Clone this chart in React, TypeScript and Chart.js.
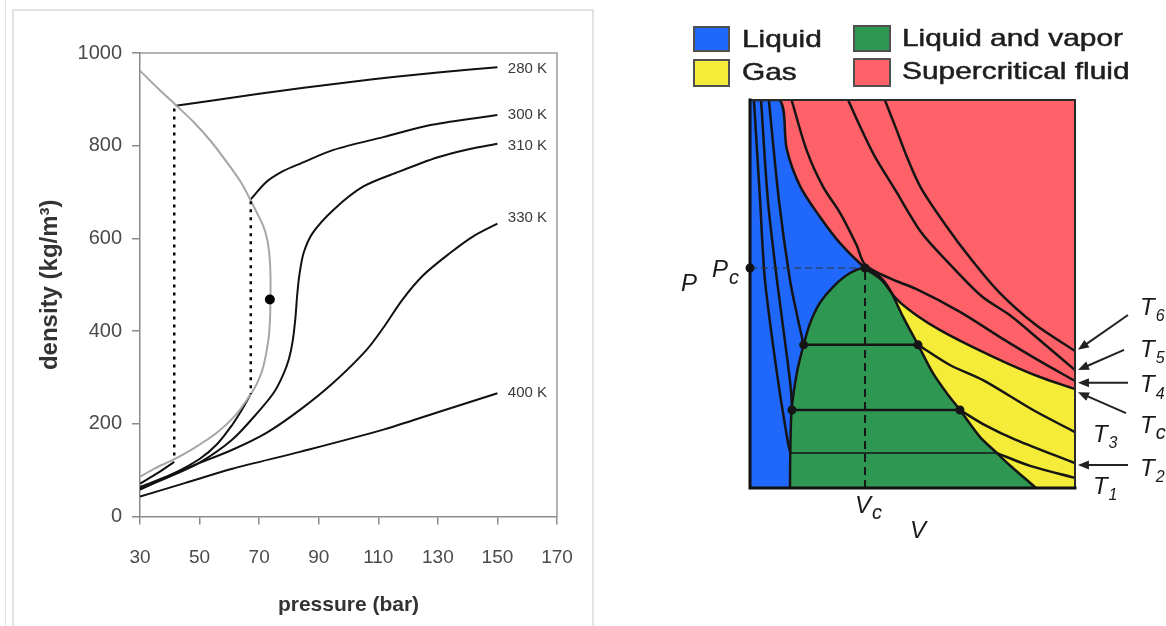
import React, { useEffect, useRef } from "react";
import { Chart, registerables } from "chart.js";

Chart.register(...registerables);

const FONT = '"Liberation Sans", Arial, Helvetica, sans-serif';
Chart.defaults.font.family = FONT;

// ================= Left chart: CO2 density vs pressure =================
const pressureTicks = [30, 50, 70, 90, 110, 130, 150, 170];
const densityTicks = [0, 200, 400, 600, 800, 1000];

// grey saturation (two-phase boundary) curve: liquid side then vapour side
const saturationCurve = [
  [30, 962], [36, 924], [42.3, 886], [48, 851], [54, 808], [60, 757], [64, 720], [67, 684],
  [69.5, 652], [71.5, 625], [72.8, 595], [73.5, 560], [73.8, 520], [73.8, 467], [73.6, 420],
  [73.1, 381], [71.4, 323], [69.5, 290], [67, 262], [62, 218], [55.7, 180],
  [48, 147], [41, 122], [35, 104], [30, 86],
];
const iso280Vapor = [[30, 71], [36, 94], [41.5, 118]];
const iso280Liquid = [
  [42, 886], [55, 898], [70, 912], [85, 925], [100, 937], [115, 948], [130, 958], [150, 969],
];
const iso300Vapor = [[30, 64], [40, 89], [50, 124], [56, 157], [61, 198], [64, 228], [67, 262]];
const iso300Liquid = [
  [67, 683], [72.5, 722], [78, 745], [84, 762], [95, 791], [112, 819], [128, 845], [150, 866],
];
const iso310 = [
  [30, 60], [40, 86], [50, 116], [61, 166], [70, 228], [75, 268], [78, 305], [80, 340],
  [81.3, 380], [82.2, 430], [82.8, 480], [83.6, 525], [85, 570], [88, 612], [95, 662],
  [105, 712], [117, 744], [130, 775], [140, 792], [150, 804],
];
const iso330 = [
  [30, 58], [44.5, 101], [61, 144], [72.6, 181], [83.7, 230], [94.8, 288], [106, 359],
  [112, 410], [118, 467], [125, 520], [134, 568], [142, 605], [150, 632],
];
const iso400 = [[30, 43], [45, 72], [61, 103], [84, 140], [112, 188], [130, 225], [150, 266]];
const tieLine42 = [[41.5, 880], [41.5, 122]];
const tieLine67 = [[67.2, 680], [67.2, 264]];
const criticalPointCO2 = [[73.6, 468]];
const isothermLabels = ["280 K", "300 K", "310 K", "330 K", "400 K"];
const isothermLabelPressure = [153.5, 153.5, 153.5, 153.5, 153.5];
const isothermLabelDensity = [966, 866, 799, 645, 266];

// ================= Right chart: P–V diagram =================
const vCritical = 35.4;
const domeBoundary = [
  [12.3, 0], [12.4, 9], [12.8, 20], [14.5, 30], [16.5, 36.9], [18.5, 42.5], [21.5, 47.7],
  [25.5, 51.8], [30.8, 55.4], [35.4, 56.7], [40, 54.4], [43.1, 51], [47.1, 44.1],
  [51.7, 36.9], [56.3, 29.6], [60.5, 24.5], [64.6, 20.1], [70.8, 13.1], [76, 9],
  [80, 5.8], [85, 2.2], [88, 0],
];
const regionCorner = [[0, 100]];
const tcIsotherm = [
  [9.2, 100], [11.3, 87.4], [15.4, 77.8], [21.5, 69.9], [27.7, 63.1], [35.4, 56.7],
  [40.5, 53.6], [45.2, 48.6], [51.1, 44.6], [58.5, 40.7], [68.6, 36.3], [79, 32.2],
  [89.2, 28.6], [100, 25.5],
];
const t4Isotherm = [
  [12.8, 100], [17.4, 87.1], [22.5, 77.6], [27.7, 70.9], [32.8, 62.6], [35.4, 57.6],
  [43.1, 54], [51.1, 51.3], [64.6, 45.4], [76.9, 38.9], [89.2, 32.7], [100, 27.6],
];
const t5Isotherm = [
  [30.2, 100], [33.3, 94.2], [38.3, 85.6], [44.5, 77.1], [52.6, 66], [60.8, 58.3],
  [71.2, 49.5], [80, 44.5], [90, 37.5], [100, 30.4],
];
const t6Isotherm = [
  [41.5, 100], [45.1, 92.3], [48.2, 85.5], [52.5, 77.5], [60, 68], [68, 59],
  [76.6, 50.5], [88, 42], [100, 35.3],
];
const t3Liquid = [[5.8, 100], [8.9, 74.2], [12.3, 53.6], [14.8, 43.3], [16.5, 36.9]];
const t3Tie = [[16.5, 36.9], [51.7, 36.9]];
const t3Gas = [[51.7, 36.9], [61.5, 31.7], [71.7, 27.8], [87.1, 20.1], [100, 14.4]];
const t2Liquid = [[3.4, 100], [5.5, 74.2], [8.3, 53.6], [11.1, 35.6], [12.6, 25.3], [12.9, 20.1]];
const t2Tie = [[12.9, 20.1], [64.6, 20.1]];
const t2Gas = [[64.6, 20.1], [72.3, 16.2], [81.8, 12.4], [100, 6.4]];
const t1Liquid = [[1.2, 100], [3.1, 74.2], [4.6, 53.6], [8.6, 27.8], [11.7, 11.6], [12.4, 9]];
const t1Tie = [[12.4, 9], [76, 9]];
const t1Gas = [[76, 9], [86.2, 5.7], [100, 2.6]];
const saturationDots = [[16.5, 36.9], [51.7, 36.9], [12.9, 20.1], [64.6, 20.1], [35.4, 56.7]];
const pcLine = [[0, 56.7], [35.4, 56.7]];
const vcLine = [[35.4, 0], [35.4, 56.7]];
const pcMarker = [[0, 56.7]];

// text labels of the P–V diagram: [main, subscript, V, P]
const pvLabels: [string, string, number, number][] = [
  ["P", "", -21.2, 52.6],
  ["P", "c", -11.7, 56.2],
  ["V", "c", 32.3, -4.6],
  ["V", "", 49.2, -11.1],
  ["T", "6", 120, 46.4],
  ["T", "5", 120, 35.6],
  ["T", "4", 120, 26.5],
  ["T", "c", 120, 16.0],
  ["T", "3", 105.5, 13.7],
  ["T", "2", 120, 4.9],
  ["T", "1", 105.5, 0.3],
];
// arrows from labels to isotherm ends: [V1, P1, V2, P2]
const pvArrows = [
  [116.3, 44.6, 100.9, 35.6],
  [115.1, 35.6, 100.9, 30.4],
  [116.3, 27.1, 100.9, 27.1],
  [115.7, 19.3, 100.9, 24.7],
  [116.3, 5.9, 100.9, 5.9],
];

const BLUE = "#2067fb";
const GREEN = "#2e9852";
const RED = "#ff6168";
const YELLOW = "#f4ec38";
const INK = "#151515";

const pts = (a: number[][]) => a.map(([x, y]) => ({ x, y }));

function leftConfig(): any {
  const line = (data: number[][], extra: any = {}) => ({
    data: pts(data),
    showLine: true,
    pointRadius: 0,
    borderColor: "#111",
    borderWidth: 2,
    tension: 0.3,
    fill: false,
    ...extra,
  });
  const labelPlugin = {
    id: "isoLabels",
    beforeDatasetsDraw(chart: any) {
      const { ctx, chartArea: a } = chart;
      ctx.save();
      ctx.strokeStyle = "#9a9a9a";
      ctx.lineWidth = 1.5;
      ctx.beginPath();
      ctx.moveTo(a.left, a.top);
      ctx.lineTo(a.right, a.top);
      ctx.lineTo(a.right, a.bottom);
      ctx.stroke();
      ctx.restore();
    },
    afterDatasetsDraw(chart: any) {
      const { ctx, scales } = chart;
      ctx.save();
      ctx.font = `15px ${FONT}`;
      ctx.fillStyle = "#3a3a3a";
      ctx.textAlign = "left";
      ctx.textBaseline = "middle";
      isothermLabels.forEach((t, i) => {
        ctx.fillText(
          t,
          scales.x.getPixelForValue(isothermLabelPressure[i]),
          scales.y.getPixelForValue(isothermLabelDensity[i])
        );
      });
      ctx.restore();
    },
  };
  return {
    type: "scatter",
    data: {
      datasets: [
        line(criticalPointCO2, { showLine: false, pointRadius: 5, pointBackgroundColor: "#000", pointBorderWidth: 0 }),
        line(tieLine42, { borderDash: [3, 5], borderWidth: 2.5, tension: 0, borderColor: "#000" }),
        line(tieLine67, { borderDash: [3, 5], borderWidth: 2.5, tension: 0, borderColor: "#000" }),
        line(saturationCurve, { borderColor: "#a6a6a6", borderWidth: 2, tension: 0.25 }),
        line(iso280Vapor),
        line(iso280Liquid),
        line(iso300Vapor),
        line(iso300Liquid),
        line(iso310),
        line(iso330),
        line(iso400),
      ],
    },
    options: {
      animation: false,
      responsive: false,
      events: [],
      layout: { padding: { left: 0, top: 53, right: 43, bottom: 0 } },
      plugins: { legend: { display: false }, tooltip: { enabled: false } },
      scales: {
        x: {
          type: "linear",
          min: 30,
          max: 170,
          afterBuildTicks: (s: any) => {
            s.ticks = pressureTicks.map((value) => ({ value }));
          },
          afterFit: (s: any) => {
            s.height = 109.5;
          },
          ticks: { color: "#4a4a4a", font: { size: 19 }, padding: 22, maxRotation: 0, callback: (v: any) => String(v) },
          grid: { drawOnChartArea: false, drawTicks: true, tickLength: 8, color: "#8a8a8a", lineWidth: 1.5 },
          border: { color: "#8a8a8a", width: 1.5 },
          title: {
            display: true,
            text: "pressure (bar)",
            color: "#333",
            font: { size: 21, weight: "bold" },
            padding: { top: 0, bottom: 8.4 },
          },
        },
        y: {
          type: "linear",
          min: 0,
          max: 1000,
          afterBuildTicks: (s: any) => {
            s.ticks = densityTicks.map((value) => ({ value }));
          },
          afterFit: (s: any) => {
            s.width = 140;
          },
          ticks: { color: "#4a4a4a", font: { size: 20 }, padding: 10, callback: (v: any) => String(v) },
          grid: { drawOnChartArea: false, drawTicks: true, tickLength: 8, color: "#8a8a8a", lineWidth: 1.5 },
          border: { color: "#8a8a8a", width: 1.5 },
          title: {
            display: true,
            text: "density (kg/m³)",
            color: "#333",
            font: { size: 24, weight: "bold" },
            padding: { top: 35.6, bottom: 0 },
          },
        },
      },
    },
    plugins: [labelPlugin],
  };
}

function rightConfig(): any {
  const line = (data: number[][], extra: any = {}) => ({
    data: pts(data),
    showLine: true,
    pointRadius: 0,
    borderColor: INK,
    borderWidth: 2.5,
    tension: 0.3,
    fill: false,
    order: 1,
    ...extra,
  });
  const notes = {
    id: "pvNotes",
    afterDatasetsDraw(chart: any) {
      const { ctx, chartArea: a, scales } = chart;
      const px = (v: number) => scales.x.getPixelForValue(v);
      const py = (p: number) => scales.y.getPixelForValue(p);
      ctx.save();
      // frame
      ctx.lineCap = "square";
      ctx.strokeStyle = "#2a2a2a";
      ctx.lineWidth = 2;
      ctx.beginPath();
      ctx.moveTo(a.left, a.top);
      ctx.lineTo(a.right, a.top);
      ctx.lineTo(a.right, a.bottom);
      ctx.stroke();
      ctx.strokeStyle = "#111";
      ctx.lineWidth = 3;
      ctx.beginPath();
      ctx.moveTo(a.left, a.top);
      ctx.lineTo(a.left, a.bottom);
      ctx.lineTo(a.right, a.bottom);
      ctx.stroke();
      // arrows
      ctx.lineCap = "butt";
      ctx.strokeStyle = "#222";
      ctx.fillStyle = "#222";
      ctx.lineWidth = 2;
      for (const [v1, p1, v2, p2] of pvArrows) {
        const x1 = px(v1), y1 = py(p1), x2 = px(v2), y2 = py(p2);
        const ang = Math.atan2(y2 - y1, x2 - x1);
        const hl = 11, hw = 4.5;
        ctx.beginPath();
        ctx.moveTo(x1, y1);
        ctx.lineTo(x2 - Math.cos(ang) * hl * 0.8, y2 - Math.sin(ang) * hl * 0.8);
        ctx.stroke();
        ctx.beginPath();
        ctx.moveTo(x2, y2);
        ctx.lineTo(x2 - Math.cos(ang) * hl - Math.sin(ang) * hw, y2 - Math.sin(ang) * hl + Math.cos(ang) * hw);
        ctx.lineTo(x2 - Math.cos(ang) * hl + Math.sin(ang) * hw, y2 - Math.sin(ang) * hl - Math.cos(ang) * hw);
        ctx.closePath();
        ctx.fill();
      }
      // labels
      ctx.fillStyle = "#1a1a1a";
      ctx.textAlign = "left";
      ctx.textBaseline = "middle";
      for (const [main, sub, v, p] of pvLabels) {
        const x = px(v), y = py(p);
        ctx.font = `italic 24px ${FONT}`;
        ctx.fillText(main, x, y);
        const w = ctx.measureText(main).width;
        if (sub) {
          const isLetter = /[a-z]/.test(sub);
          ctx.font = `italic ${isLetter ? 20 : 16}px ${FONT}`;
          ctx.fillText(sub, x + w + 1, y + (isLetter ? 8 : 9));
        }
      }
      ctx.restore();
    },
  };
  return {
    type: "scatter",
    data: {
      datasets: [
        line(pcMarker, { showLine: false, pointRadius: 4.5, pointBackgroundColor: INK, pointBorderWidth: 0, clip: false, order: 0 }),
        line(saturationDots, { showLine: false, pointRadius: 4.5, pointBackgroundColor: INK, pointBorderWidth: 0, order: 0 }),
        line(pcLine, { borderWidth: 1.2, borderDash: [7, 4], tension: 0, borderColor: "#333" }),
        line(vcLine, { borderWidth: 2, borderDash: [8, 5], tension: 0 }),
        line(t1Liquid),
        line(t1Tie, { tension: 0, borderWidth: 1.5 }),
        line(t1Gas),
        line(t2Liquid),
        line(t2Tie, { tension: 0 }),
        line(t2Gas),
        line(t3Liquid),
        line(t3Tie, { tension: 0 }),
        line(t3Gas),
        line([...regionCorner, ...tcIsotherm]),
        line(t4Isotherm),
        line(t5Isotherm),
        line(t6Isotherm),
        // liquid–vapour dome (green)
        line(domeBoundary, { fill: "origin", backgroundColor: GREEN, order: 10 }),
        // liquid (blue, left of Vc) and gas (yellow, right of Vc) under the critical isotherm
        line([...regionCorner, ...tcIsotherm], {
          borderWidth: 0,
          fill: "origin",
          backgroundColor: BLUE,
          order: 20,
          segment: {
            backgroundColor: (c: any) => (c.p0.parsed.x < vCritical ? BLUE : YELLOW),
          },
        }),
        // supercritical fluid (red) above the critical isotherm
        line([...regionCorner, ...tcIsotherm], { borderWidth: 0, fill: "end", backgroundColor: RED, order: 20 }),
      ],
    },
    options: {
      animation: false,
      responsive: false,
      events: [],
      layout: { padding: { left: 90, top: 100, right: 91, bottom: 138 } },
      plugins: { legend: { display: false }, tooltip: { enabled: false } },
      scales: {
        x: { type: "linear", min: 0, max: 100, display: false },
        y: { type: "linear", min: 0, max: 100, display: false },
      },
    },
    plugins: [notes],
  };
}

const legendItems = [
  { label: "Liquid", color: BLUE, left: 693, top: 26, w: 37, h: 26 },
  { label: "Gas", color: YELLOW, left: 693, top: 59, w: 37, h: 28 },
  { label: "Liquid and vapor", color: GREEN, left: 853, top: 25, w: 38, h: 27 },
  { label: "Supercritical fluid", color: RED, left: 853, top: 58, w: 38, h: 29 },
];

export default function App() {
  const leftRef = useRef<HTMLCanvasElement>(null);
  const rightRef = useRef<HTMLCanvasElement>(null);

  useEffect(() => {
    const c1 = new Chart(leftRef.current as HTMLCanvasElement, leftConfig());
    const c2 = new Chart(rightRef.current as HTMLCanvasElement, rightConfig());
    return () => {
      c1.destroy();
      c2.destroy();
    };
  }, []);

  return (
    <div
      style={{
        position: "absolute",
        left: 0,
        top: 0,
        width: 1166,
        height: 626,
        background: "#fff",
        overflow: "hidden",
        fontFamily: FONT,
      }}
    >
      <div style={{ position: "absolute", left: 5, top: 0, width: 1, height: 626, background: "#e4e4e4" }} />
      <div
        style={{
          position: "absolute",
          left: 12,
          top: 9,
          width: 582,
          height: 640,
          border: "2px solid #e2e2e2",
          boxSizing: "border-box",
        }}
      />
      <canvas ref={leftRef} width={600} height={626} style={{ position: "absolute", left: 0, top: 0 }} />
      <canvas ref={rightRef} width={506} height={626} style={{ position: "absolute", left: 660, top: 0 }} />
      {legendItems.map((it) => (
        <React.Fragment key={it.label}>
          <div
            style={{
              position: "absolute",
              left: it.left,
              top: it.top,
              width: it.w,
              height: it.h,
              background: it.color,
              border: "2px solid #505050",
              boxSizing: "border-box",
            }}
          />
          <div
            style={{
              position: "absolute",
              left: it.left + 49,
              top: it.top - 1,
              height: 28,
              lineHeight: "28px",
              fontSize: 24,
              color: "#1e1e1e",
              whiteSpace: "nowrap",
              transform: "scaleX(1.245)",
              transformOrigin: "left center",
              WebkitTextStroke: "0.5px #1e1e1e",
            }}
          >
            {it.label}
          </div>
        </React.Fragment>
      ))}
    </div>
  );
}
